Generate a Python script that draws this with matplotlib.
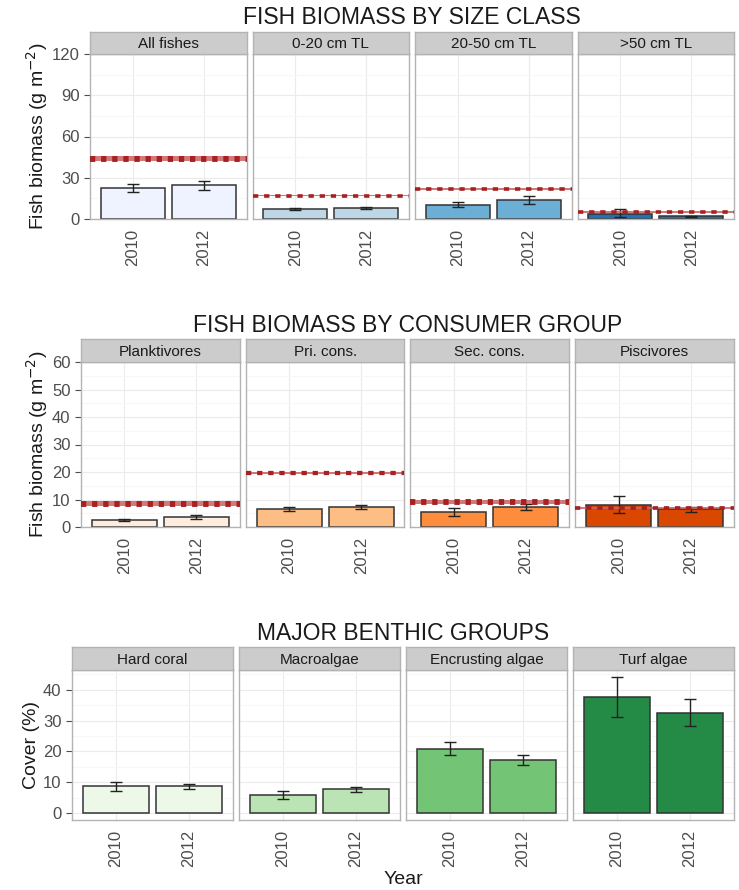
import matplotlib
matplotlib.use("Agg")
import matplotlib.pyplot as plt
from matplotlib.ticker import MultipleLocator

plt.rcParams["font.family"] = ["Liberation Sans", "DejaVu Sans"]

# ---- data ----
years = ["2010", "2012"]

size_panels = ["All fishes", "0-20 cm TL", "20-50 cm TL", ">50 cm TL"]
size_mean = [[22.5, 24.4], [7.6, 7.8], [10.4, 13.8], [3.6, 1.9]]
size_lo = [[19.6, 21.4], [6.9, 7.2], [8.8, 11.1], [1.5, 1.5]]
size_hi = [[25.1, 27.4], [8.3, 8.4], [12.5, 16.6], [7.3, 2.4]]
size_ref = [43.9, 17.0, 21.6, 5.1]
size_ref_band = [1.6, 0.4, 0.6, 0.7]
size_colors = ["#EFF3FF", "#BDD7E7", "#6BAED6", "#2171B5"]

cons_panels = ["Planktivores", "Pri. cons.", "Sec. cons.", "Piscivores"]
cons_mean = [[2.5, 3.6], [6.5, 7.3], [5.5, 7.3], [8.0, 6.4]]
cons_lo = [[2.1, 2.8], [5.7, 6.5], [4.0, 6.1], [5.0, 5.6]]
cons_hi = [[2.8, 4.4], [7.3, 8.1], [6.8, 8.5], [11.3, 7.2]]
cons_ref = [8.5, 19.6, 9.0, 6.8]
cons_ref_band = [0.8, 0.5, 0.8, 0.4]
cons_colors = ["#FEEDDE", "#FDBE85", "#FD8D3C", "#D94701"]

benth_panels = ["Hard coral", "Macroalgae", "Encrusting algae", "Turf algae"]
benth_mean = [[8.8, 8.9], [5.9, 7.9], [20.9, 17.2], [37.6, 32.6]]
benth_lo = [[7.2, 7.9], [4.7, 7.0], [18.7, 15.7], [31.2, 28.4]]
benth_hi = [[10.0, 9.6], [7.1, 8.6], [23.1, 18.8], [44.2, 37.1]]
benth_colors = ["#EDF8E9", "#BAE4B3", "#74C476", "#238B45"]

W, H = 739, 890
fig = plt.figure(figsize=(W / 100, H / 100), dpi=100)


def box(x0, y0, x1, y1):
    # pixel box (top-left origin) -> figure fraction rect
    return [x0 / W, 1 - y1 / H, (x1 - x0) / W, (y1 - y0) / H]


def draw_row(title, title_y, names, mean, lo, hi, colors, ref, band,
             left, strip_top, strip_bot, bottom, ylim, ystep, ylabel, ylab_x):
    right, gap = 734, 6
    pw = (right - left - 3 * gap) / 4
    px_per_unit = (bottom - strip_bot) / (ylim[1] - ylim[0])
    for i, name in enumerate(names):
        x0 = left + i * (pw + gap)
        ax = fig.add_axes(box(x0, strip_bot, x0 + pw, bottom))
        ax.set_xlim(0.4, 2.6)
        ax.set_ylim(*ylim)
        ax.yaxis.set_major_locator(MultipleLocator(ystep))
        ax.yaxis.set_minor_locator(MultipleLocator(ystep / 2))
        ax.set_xticks([1, 2])
        ax.set_xticklabels(years, rotation=90, fontsize=12, color="#4D4D4D")
        ax.grid(True, which="major", color="#EBEBEB", lw=0.8)
        ax.grid(True, which="minor", axis="y", color="#F7F7F7", lw=0.8)
        ax.set_axisbelow(True)
        for s in ax.spines.values():
            s.set_color("#B3B3B3")
            s.set_linewidth(1.0)
        ax.tick_params(axis="x", length=0, pad=7)
        ax.tick_params(axis="y", which="minor", length=0)
        if i == 0:
            ax.tick_params(axis="y", length=4, color="#4D4D4D", labelsize=12,
                           labelcolor="#4D4D4D")
        else:
            ax.tick_params(axis="y", length=0, labelleft=False)

        ax.bar([1, 2], mean[i], width=0.9, color=colors[i],
               edgecolor="#333333", linewidth=1.1, zorder=2)
        err = [[m - l for m, l in zip(mean[i], lo[i])],
               [h - m for m, h in zip(mean[i], hi[i])]]
        ax.errorbar([1, 2], mean[i], yerr=err, fmt="none", ecolor="#222222",
                    elinewidth=1.0, capsize=4.5, capthick=1.0, zorder=3)
        if ref is not None:
            ax.axhspan(ref[i] - band[i], ref[i] + band[i], color="#C86464",
                       alpha=0.85, lw=0, zorder=4)
            band_px = 2 * band[i] * px_per_unit
            lw = max(2.6, (band_px + 1.5) * 0.72)
            ax.axhline(ref[i], color="#A82020", lw=lw,
                       ls=(0, (3.8 / lw, 4.2 / lw)), zorder=5)

        sx = fig.add_axes(box(x0, strip_top, x0 + pw, strip_bot))
        sx.set_facecolor("#CCCCCC")
        sx.set_xticks([])
        sx.set_yticks([])
        for s in sx.spines.values():
            s.set_color("#B3B3B3")
            s.set_linewidth(1.0)
        sx.text(0.5, 0.45, name, ha="center", va="center", fontsize=11,
                color="#1A1A1A", transform=sx.transAxes)

    fig.text((left + right) / 2 / W, 1 - title_y / H, title, ha="center",
             va="center", fontsize=16.5, color="#1A1A1A")
    fig.text(ylab_x / W, 1 - (strip_bot + bottom) / 2 / H, ylabel, ha="center",
             va="center", rotation=90, fontsize=14, color="#1A1A1A")


draw_row("FISH BIOMASS BY SIZE CLASS", 18, size_panels, size_mean, size_lo,
         size_hi, size_colors, size_ref, size_ref_band,
         90, 32, 54, 219, (0, 120), 30, "Fish biomass (g m$^{-2}$)", 37)
draw_row("FISH BIOMASS BY CONSUMER GROUP", 325, cons_panels, cons_mean, cons_lo,
         cons_hi, cons_colors, cons_ref, cons_ref_band,
         81, 339, 362, 527, (0, 60), 10, "Fish biomass (g m$^{-2}$)", 37)
draw_row("MAJOR BENTHIC GROUPS", 633, benth_panels, benth_mean, benth_lo,
         benth_hi, benth_colors, None, None,
         72, 647, 670, 820, (-2.2, 46.4), 10, "Cover (%)", 32)

fig.text(403 / W, 1 - 879 / H, "Year", ha="center", va="center", fontsize=14,
         color="#1A1A1A")

fig.savefig("out.png", dpi=100)
